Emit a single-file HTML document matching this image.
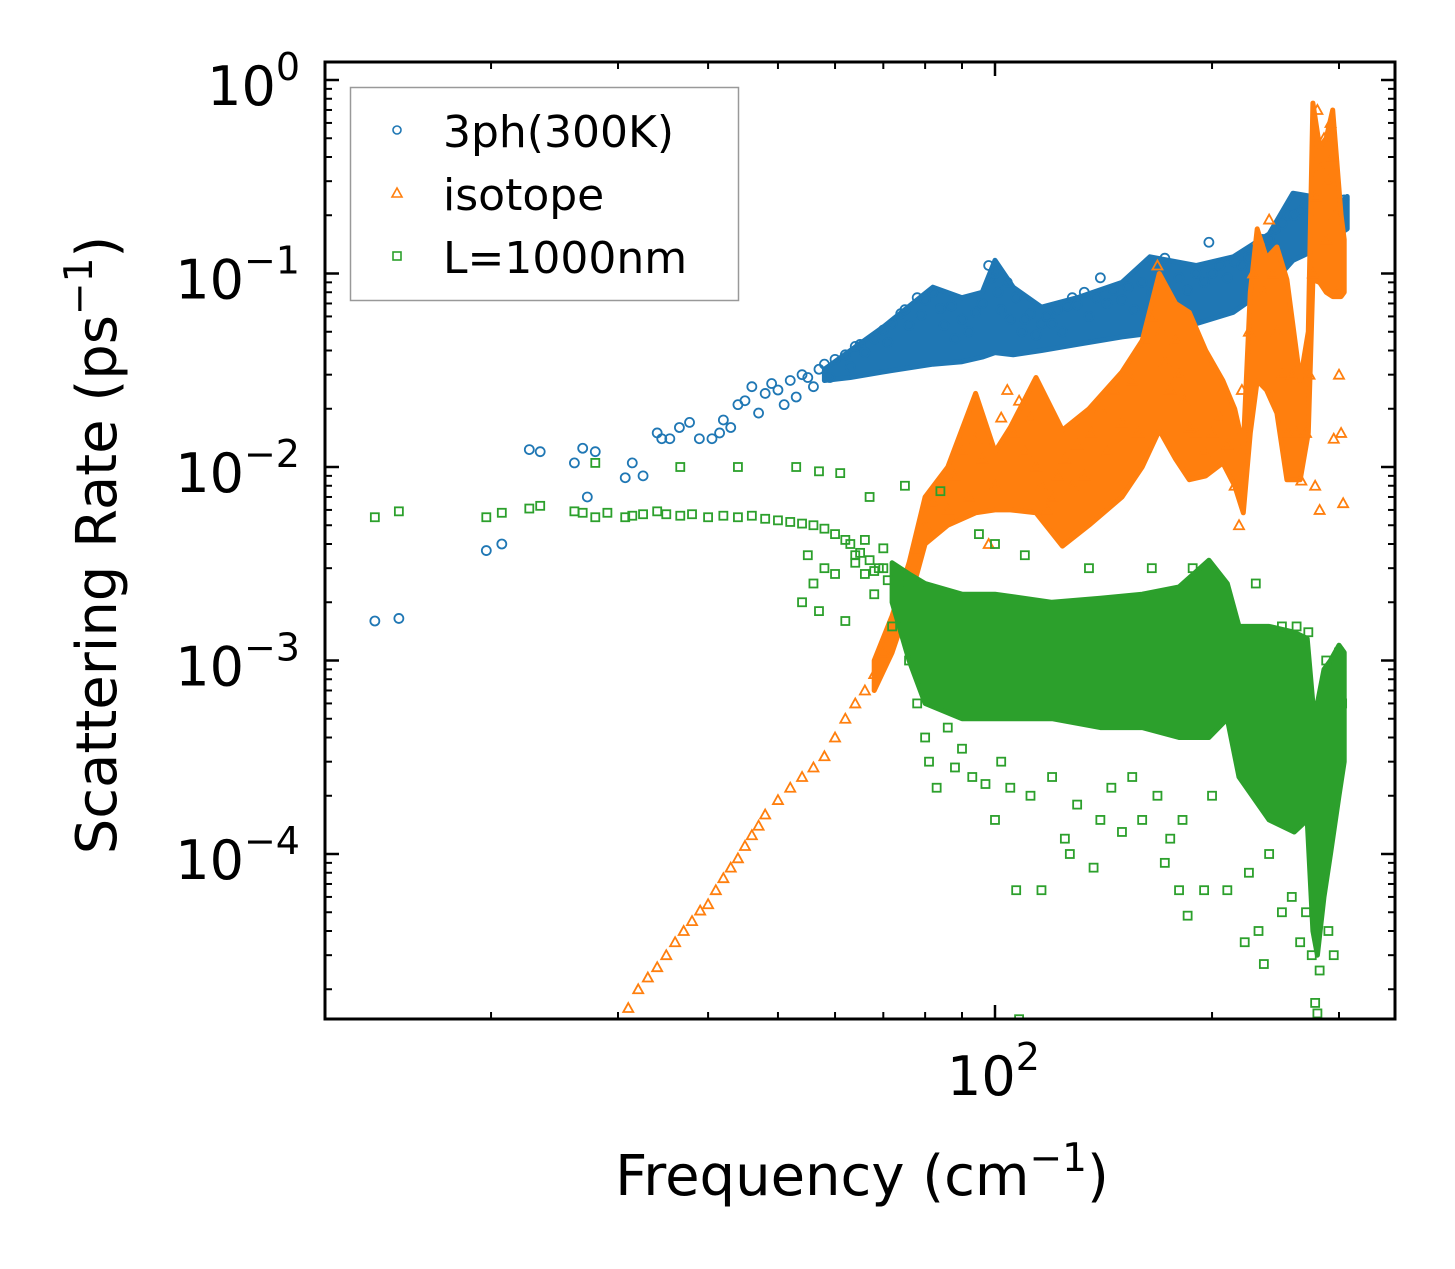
<!DOCTYPE html>
<html><head><meta charset="utf-8"><style>
body{margin:0;background:#fff;}
svg{display:block;font-family:"DejaVu Sans","Liberation Sans",sans-serif;}
</style></head><body>
<svg id="chart" width="1455" height="1269" viewBox="0 0 1455 1269">
<rect x="0" y="0" width="1455" height="1269" fill="#fff"/>
<g id="bands"></g>
<g id="marks"></g>
<g id="axes"></g>
<text x="862" y="1195" font-size="56" text-anchor="middle">Frequency (cm<tspan dy="-24" font-size="39">−1</tspan><tspan dy="24">)</tspan></text>
<text transform="translate(116,545) rotate(-90)" font-size="56" text-anchor="middle">Scattering Rate (ps<tspan dy="-24" font-size="39">−1</tspan><tspan dy="24">)</tspan></text>
<g>
<rect x="350.5" y="87.5" width="388" height="213" fill="#fff" stroke="#999" stroke-width="1.5"/>
<circle cx="397" cy="130" r="4" fill="none" stroke="#1f77b4" stroke-width="1.6"/>
<text x="443" y="147" font-size="44">3ph(300K)</text>
<polygon points="397,188 402,197 392,197" fill="none" stroke="#ff7f0e" stroke-width="1.6"/>
<text x="443" y="210" font-size="44">isotope</text>
<rect x="393" y="252" width="8" height="8" fill="none" stroke="#2ca02c" stroke-width="1.6"/>
<text x="443" y="273" font-size="44">L=1000nm</text>
</g>
</svg>
<script>
const blueF=[13.8,14.9,19.7,20.7,22.6,23.4,26.1,26.8,27.9,27.2,30.7,31.4,32.5,34,34.5,35.4,36.5,37.7,38.9,40.5,41.5,42,43,44,45,46,47,48,49,50,51,52,53,54,55,56,57,58,59,60,62,63,64,65,66,68,70,71,72,74,75,76,78,79,80,82,84,85,87,88,90,92,94,96,98,99,100,101,102,104,105,107,109,110,112,114,116,118,120,122,124,126,128,130,133,135,138,140,143,146,150,153,156,160,165,170,172,175,180,185,190,195,198,200,205,210,215,220,225,230,235,240,245,250,255,260,265,270,275,278,280,285,290,295,300,303,305];
const blueV=[1.6e-3,1.65e-3,3.7e-3,4.0e-3,1.23e-2,1.2e-2,1.05e-2,1.25e-2,1.2e-2,7e-3,8.8e-3,1.05e-2,9e-3,1.5e-2,1.4e-2,1.4e-2,1.6e-2,1.7e-2,1.4e-2,1.4e-2,1.5e-2,1.75e-2,1.6e-2,2.1e-2,2.2e-2,2.6e-2,1.9e-2,2.4e-2,2.7e-2,2.5e-2,2.1e-2,2.8e-2,2.3e-2,3.0e-2,2.9e-2,2.6e-2,3.2e-2,3.4e-2,2.9e-2,3.6e-2,3.8e-2,3.3e-2,4.2e-2,4.3e-2,3.9e-2,4.6e-2,5.1e-2,4.4e-2,5.5e-2,6.2e-2,6.5e-2,5.4e-2,7.5e-2,6.1e-2,7.3e-2,8.0e-2,6.6e-2,5.4e-2,6.8e-2,4.6e-2,5.8e-2,5.0e-2,6.3e-2,7.0e-2,1.1e-1,9.5e-2,1.0e-1,8.0e-2,6.5e-2,9.0e-2,5.8e-2,7.5e-2,5.0e-2,5.8e-2,6.2e-2,4.8e-2,5.5e-2,6.0e-2,5.5e-2,6.5e-2,5.0e-2,6.8e-2,7.5e-2,6.9e-2,8.0e-2,6.0e-2,7.5e-2,9.5e-2,7.0e-2,8.2e-2,7.3e-2,8.5e-2,6.5e-2,9.0e-2,8.0e-2,8.7e-2,1.2e-1,7.5e-2,9.5e-2,8.2e-2,1.0e-1,9.0e-2,1.45e-1,1.0e-1,1.1e-1,9.5e-2,1.15e-1,1.1e-1,1.2e-1,1.3e-1,1.5e-1,1.5e-1,1.7e-1,1.8e-1,2.0e-1,2.0e-1,2.1e-1,2.3e-1,2.4e-1,1.0e-1,2.2e-1,2.0e-1,2.2e-1,2.0e-1,2.1e-1,2.3e-1,2.4e-1];
const blueBandF=[58,63,70,82,90,96,100,106,116,130,150,164,190,214,240,259,275,278,290,300,308];
const blueLo=[2.8e-2,2.9e-2,3.1e-2,3.4e-2,3.5e-2,3.7e-2,3.9e-2,3.8e-2,4.0e-2,4.3e-2,4.7e-2,4.9e-2,5.5e-2,6.3e-2,8.5e-2,1.17e-1,1.3e-1,1.3e-1,1.5e-1,1.6e-1,1.7e-1];
const blueHi=[3.2e-2,4.0e-2,5.3e-2,8.5e-2,7.5e-2,8.0e-2,1.17e-1,8.5e-2,6.7e-2,7.5e-2,9.0e-2,1.22e-1,1.1e-1,1.22e-1,1.6e-1,2.6e-1,2.5e-1,2.4e-1,2.3e-1,2.3e-1,2.5e-1];

const orangeF=[30,31,32,33,34,35,36,37,38,39,40,41,42,43,44,45,46,47,48,50,52,54,56,58,60,62,64,66,68,70,72,74,76,78,80,82,84,86,88,90,92,94,96,98,100,102,104,106,108,110,112,114,116,118,120,122,125,128,130,133,136,140,143,146,150,155,158,162,165,168,170,172,175,178,180,183,186,190,195,200,205,210,215,218,220,225,228,232,236,240,243,246,250,255,258,262,266,270,273,276,278,280,283,286,288,290,292,294,296,298,300,302,304,282,278,295];
const orangeV=[1.3e-5,1.6e-5,2.0e-5,2.3e-5,2.6e-5,3.0e-5,3.5e-5,4.0e-5,4.5e-5,5.1e-5,5.5e-5,6.5e-5,7.5e-5,8.5e-5,9.5e-5,1.1e-4,1.25e-4,1.4e-4,1.6e-4,1.9e-4,2.2e-4,2.5e-4,2.8e-4,3.2e-4,4.0e-4,5.0e-4,6.0e-4,7.0e-4,8.5e-4,1.1e-3,1.4e-3,2.0e-3,2.8e-3,3.8e-3,5.0e-3,6.5e-3,8.0e-3,6.0e-3,9.0e-3,1.2e-2,7e-3,1.4e-2,1.1e-2,4e-3,8e-3,1.8e-2,2.5e-2,1.5e-2,2.2e-2,1.2e-2,1.8e-2,1.0e-2,8e-3,6e-3,7e-3,9e-3,1.1e-2,8e-3,1.3e-2,9e-3,1.5e-2,2.0e-2,1.2e-2,2.5e-2,1.7e-2,2.8e-2,1.5e-2,4.5e-2,6e-2,1.1e-1,5e-2,3.5e-2,2.5e-2,4.5e-2,3e-2,2.2e-2,1.6e-2,1.5e-2,1.2e-2,1.5e-2,1.8e-2,1.3e-2,8e-3,5e-3,2.5e-2,5e-2,1e-1,1.5e-1,8e-2,1.9e-1,1.0e-1,5e-2,3e-2,1.5e-2,3e-2,1.5e-2,8.5e-3,1.5e-2,3e-2,1e-1,2.5e-1,7e-1,3.5e-1,5e-1,1.5e-1,3e-1,6e-1,4e-1,2e-1,8e-2,3e-2,1.5e-2,6.5e-3,6e-3,8e-3,1.4e-2];
const orangeBandF=[68,72,76,80,86,94,100,105,114,124,135,150,160,169,178,186,196,207,215,221,226,231,238,246,254,265,272,276,282,288,294,302,305];
const orangeLo=[7e-4,1.1e-3,2e-3,4e-3,5e-3,5.8e-3,6e-3,6e-3,5.8e-3,3.9e-3,5e-3,7e-3,1.0e-2,1.55e-2,1.1e-2,8.6e-3,9e-3,1.05e-2,8e-3,5.8e-3,1.5e-2,2.8e-2,2.5e-2,1.9e-2,8.6e-3,8.6e-3,1.5e-2,9.3e-2,9e-2,8e-2,7.6e-2,7.6e-2,8e-2];
const orangeHi=[1e-3,1.7e-3,3.2e-3,7e-3,1.0e-2,2.4e-2,1.2e-2,1.6e-2,2.9e-2,1.55e-2,2.0e-2,3.1e-2,4.5e-2,1.0e-1,7e-2,6.3e-2,4e-2,2.8e-2,2.0e-2,1.27e-2,8e-2,1.7e-1,1.2e-1,1.37e-1,9.3e-2,2.8e-2,5e-2,7.6e-1,4.5e-1,5e-1,7e-1,2e-1,1.5e-1];

const greenF=[13.8,14.9,19.7,20.7,22.6,23.4,26.1,26.8,27.9,27.9,29,30.7,31.4,32.5,34,35,36.6,36.6,38,40,42,44,44,46,48,50,52,53,54,56,57,58,60,61,62,55,56,54,57,58,60,62,64,66,67,68,70,72,74,75,76,78,80,81,83,84,86,88,90,92,93,95,97,100,100,102,105,107,108,110,112,116,120,125,127,130,135,137,140,145,150,155,160,165,168,172,175,180,182,185,188,195,200,210,222,225,232,236,240,250,258,265,270,275,278,280,282,288,290,295,300,303,300,272,262,250,230,63,65,67,69,71,64,66,68,70];
const greenV=[5.5e-3,5.9e-3,5.5e-3,5.8e-3,6.1e-3,6.3e-3,5.9e-3,5.8e-3,5.5e-3,1.05e-2,5.8e-3,5.5e-3,5.6e-3,5.7e-3,5.9e-3,5.7e-3,5.6e-3,1.0e-2,5.7e-3,5.5e-3,5.6e-3,5.5e-3,1.0e-2,5.6e-3,5.4e-3,5.3e-3,5.2e-3,1.0e-2,5.1e-3,5.0e-3,9.5e-3,4.8e-3,4.5e-3,9.3e-3,4.2e-3,3.5e-3,2.5e-3,2.0e-3,1.8e-3,3e-3,2.8e-3,1.6e-3,3.5e-3,2.8e-3,7e-3,2.2e-3,3e-3,1.5e-3,2.5e-3,8e-3,1e-3,6e-4,4e-4,3e-4,2.2e-4,7.5e-3,4.5e-4,2.8e-4,3.5e-4,6e-4,2.5e-4,4.5e-3,2.3e-4,4e-3,1.5e-4,3e-4,2.2e-4,6.5e-5,1.4e-5,3.5e-3,2e-4,6.5e-5,2.5e-4,1.2e-4,1e-4,1.8e-4,3e-3,8.5e-5,1.5e-4,2.2e-4,1.3e-4,2.5e-4,1.5e-4,3e-3,2e-4,9e-5,1.2e-4,6.5e-5,1.5e-4,4.8e-5,3e-3,6.5e-5,2e-4,6.5e-5,3.5e-5,8e-5,4e-5,2.7e-5,1e-4,5e-5,6e-5,3.5e-5,5e-5,3e-5,1.7e-5,1.5e-5,2.5e-5,1e-3,4e-5,3e-5,1.1e-3,6e-4,3e-4,1.4e-3,1.5e-3,1.5e-3,2.5e-3,4.0e-3,3.6e-3,3.3e-3,3.0e-3,2.6e-3,3.2e-3,4.2e-3,2.9e-3,3.8e-3];
const greenBandF=[72,76,80,90,100,120,140,160,180,198,210,218,240,260,271,276,280,286,292,300,305];
const greenLo=[2.0e-3,1.0e-3,6e-4,5e-4,5e-4,5e-4,4.5e-4,4.5e-4,4e-4,4e-4,5e-4,2.5e-4,1.5e-4,1.3e-4,1.5e-4,4e-5,3e-5,6e-5,1e-4,2e-4,3e-4];
const greenHi=[3.2e-3,2.8e-3,2.5e-3,2.2e-3,2.2e-3,2.0e-3,2.1e-3,2.2e-3,2.4e-3,3.3e-3,2.5e-3,1.5e-3,1.5e-3,1.4e-3,1.3e-3,6e-4,6e-4,9e-4,1e-3,1.2e-3,1.1e-3];

const yTickExp=[0,-1,-2,-3,-4];
const xMajor=[100];

const NS="http://www.w3.org/2000/svg";
const L=325,R=1395,T=62,B=1019;
const X0=995, DX=721, Y0=80, DY=193.5;
function xs(f){return X0+(Math.log10(f)-2)*DX;}
function ys(v){return Y0-Math.log10(v)*DY;}
function mk(tag,attrs,parent){const e=document.createElementNS(NS,tag);for(const k in attrs)e.setAttribute(k,attrs[k]);parent.appendChild(e);return e;}

const bands=document.getElementById('bands');
const marks=document.getElementById('marks');
const axes=document.getElementById('axes');
const clip=mk('clipPath',{id:'pc'},document.getElementById('chart'));
mk('rect',{x:L,y:T,width:R-L,height:B-T},clip);
bands.setAttribute('clip-path','url(#pc)');
marks.setAttribute('clip-path','url(#pc)');

function band(F,lo,hi,color,name,parent){
  let pts=F.map((f,i)=>xs(f).toFixed(1)+','+ys(hi[i]).toFixed(1));
  for(let i=F.length-1;i>=0;i--)pts.push(xs(F[i]).toFixed(1)+','+ys(lo[i]).toFixed(1));
  const p=mk('polygon',{points:pts.join(' '),fill:color,stroke:color,'stroke-width':'5','stroke-linejoin':'round'},parent);
  
  
}
function series(F,V,color,shape,name){
  const g=mk('g',{},marks);
  
  
  F.forEach((f,i)=>{
    const x=xs(f),y=ys(V[i]);let e;
    if(shape==='c')e=mk('circle',{cx:x,cy:y,r:4.5,fill:'none',stroke:color,'stroke-width':1.8},g);
    else if(shape==='t')e=mk('polygon',{points:`${x},${y-5} ${x+5},${y+4} ${x-5},${y+4}`,fill:'none',stroke:color,'stroke-width':1.8},g);
    else e=mk('rect',{x:x-4,y:y-4,width:8,height:8,fill:'none',stroke:color,'stroke-width':1.8},g);
    
    
  });
}
band(blueBandF,blueLo,blueHi,'#1f77b4','band-3ph',bands);
series(blueF,blueV,'#1f77b4','c','series-3ph');
band(orangeBandF,orangeLo,orangeHi,'#ff7f0e','band-isotope',marks);
series(orangeF,orangeV,'#ff7f0e','t','series-isotope');
band(greenBandF,greenLo,greenHi,'#2ca02c','band-boundary',marks);
series(greenF,greenV,'#2ca02c','s','series-boundary');

const fr=mk('rect',{x:L,y:T,width:R-L,height:B-T,fill:'none',stroke:'#000','stroke-width':3},axes);


function tick(x1,y1,x2,y2,w){mk('line',{x1,y1,x2,y2,stroke:'#000','stroke-width':w},axes);}
for(let e=1;e>=-5;e--){
  for(let m=1;m<10;m++){
    const v=m*Math.pow(10,e),y=ys(v);
    if(y<T||y>B)continue;
    const len=m===1?14:7,w=m===1?2.5:2;
    tick(L,y,L+len,y,w);tick(R,y,R-len,y,w);
  }
}
yTickExp.forEach(e=>{
  const t=mk('text',{x:300,y:ys(Math.pow(10,e))+25,'font-size':54,'text-anchor':'end'},axes);
  t.innerHTML='10<tspan dy="-25" font-size="38">'+(e===0?'0':'−'+(-e))+'</tspan>';
  
  
});
for(let e=1;e<=2;e++){
  for(let m=1;m<10;m++){
    const f=m*Math.pow(10,e),x=xs(f);
    if(x<L||x>R)continue;
    const len=m===1?14:7,w=m===1?2.5:2;
    tick(x,B,x,B-len,w);tick(x,T,x,T+len,w);
  }
}
xMajor.forEach(f=>{
  const t=mk('text',{x:xs(f)-48,y:1095,'font-size':54},axes);
  t.innerHTML='10<tspan dy="-25" font-size="38">2</tspan>';
  
  
});
</script>
</body></html>
